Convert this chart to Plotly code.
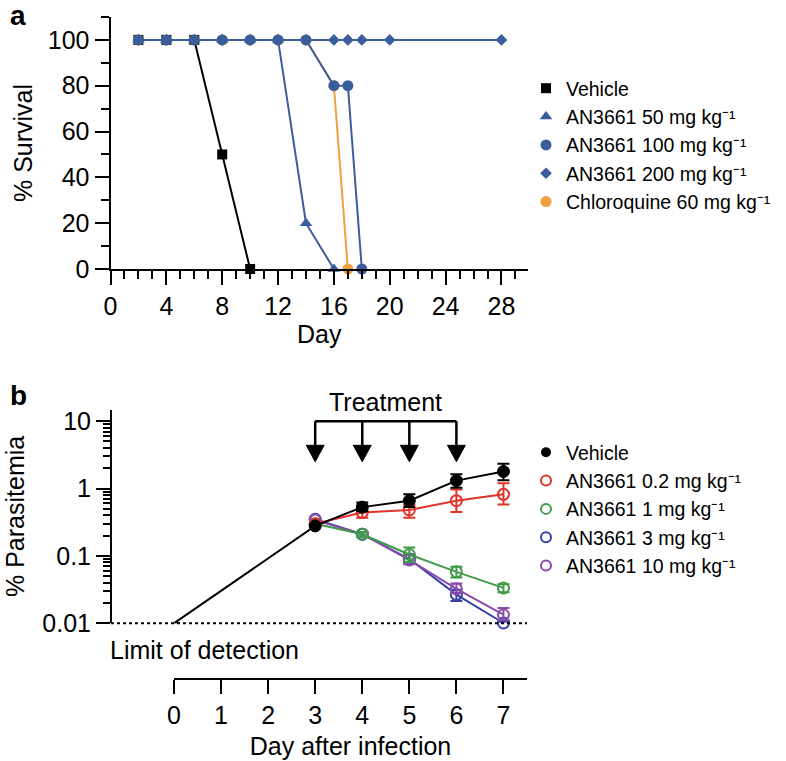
import plotly.graph_objects as go

# ---------------- Panel a data ----------------
veh_a_days = [2, 4, 6, 8, 10]
veh_a_surv = [100, 100, 100, 50, 0]
an50_days = [2, 4, 6, 8, 10, 12, 14, 16]
an50_surv = [100, 100, 100, 100, 100, 100, 20, 0]
an100_days = [2, 4, 6, 8, 10, 12, 14, 16, 17, 18]
an100_surv = [100, 100, 100, 100, 100, 100, 100, 80, 80, 0]
an200_days = [2, 4, 6, 8, 10, 12, 14, 16, 17, 18, 20, 28]
an200_surv = [100, 100, 100, 100, 100, 100, 100, 100, 100, 100, 100, 100]
chq_days = [2, 4, 6, 8, 10, 12, 14, 16, 17]
chq_surv = [100, 100, 100, 100, 100, 100, 100, 80, 0]

# ---------------- Panel b data ----------------
veh_b_days = [0, 3, 4, 5, 6, 7]
veh_b = [0.01, 0.279, 0.53, 0.66, 1.31, 1.79]
veh_b_hi = [0.01, 0.279, 0.62, 0.82, 1.63, 2.34]
veh_b_lo = [0.01, 0.279, 0.46, 0.53, 1.03, 1.33]

trt_days = [3, 4, 5, 6, 7]
r02 = [0.30, 0.44, 0.48, 0.66, 0.82]
r02_hi = [0.30, 0.51, 0.57, 0.97, 1.20]
r02_lo = [0.30, 0.37, 0.37, 0.45, 0.58]
r1 = [0.30, 0.21, 0.105, 0.058, 0.0335]
r1_hi = [0.30, 0.225, 0.133, 0.069, 0.038]
r1_lo = [0.30, 0.195, 0.081, 0.048, 0.029]
r3 = [0.35, 0.21, 0.09, 0.0266, 0.0101]
r3_hi = [0.35, 0.225, 0.105, 0.0315, 0.0106]
r3_lo = [0.35, 0.195, 0.077, 0.0215, 0.0096]
r10 = [0.34, 0.21, 0.087, 0.0325, 0.0134]
r10_hi = [0.34, 0.225, 0.102, 0.039, 0.0168]
r10_lo = [0.34, 0.195, 0.075, 0.0285, 0.0112]

treatment_days = [3, 4, 5, 6]

legend_a = ["Vehicle", "AN3661 50 mg kg\u207b\u00b9", "AN3661 100 mg kg\u207b\u00b9",
            "AN3661 200 mg kg\u207b\u00b9", "Chloroquine 60 mg kg\u207b\u00b9"]
legend_b = ["Vehicle", "AN3661 0.2 mg kg\u207b\u00b9", "AN3661 1 mg kg\u207b\u00b9",
            "AN3661 3 mg kg\u207b\u00b9", "AN3661 10 mg kg\u207b\u00b9"]

# ---------------- geometry helpers ----------------
W, H = 786, 761
def px(x):
    return x / W
def py(y):
    return 1 - y / H

FONT = "Liberation Sans, Arial, sans-serif"
BLUE = "#3A5D9C"
ORANGE = "#F0A040"
RED = "#E0342B"
GREEN = "#3F9B49"
DBLUE = "#3442A6"
PURPLE = "#8A4BAA"

fig = go.Figure()

# ---- Panel a traces ----
def surv(xs, ys, color, symbol, size, name, rank):
    fig.add_trace(go.Scatter(x=xs, y=ys, mode="lines+markers", xaxis="x", yaxis="y",
                             line=dict(color=color, width=2),
                             marker=dict(color=color, symbol=symbol, size=size, opacity=1),
                             cliponaxis=False, showlegend=False, hoverinfo="skip"))
    fig.add_trace(go.Scatter(x=[None], y=[None], mode="markers", xaxis="x", yaxis="y",
                             marker=dict(color=color, symbol=symbol, size=size),
                             name=name, legend="legend", legendrank=rank))

surv(veh_a_days, veh_a_surv, "black", "square", 10, legend_a[0], 1)
surv(an50_days, an50_surv, BLUE, "triangle-up", 11, legend_a[1], 2)
surv(chq_days, chq_surv, ORANGE, "circle", 11, legend_a[4], 5)
surv(an100_days, an100_surv, BLUE, "circle", 11, legend_a[2], 3)
surv(an200_days, an200_surv, BLUE, "diamond", 9, legend_a[3], 4)

# ---- Panel b traces ----
def para(xs, ys, hi, lo, color, name, rank, filled=False, marker_sizes=None):
    plus = [h - v for h, v in zip(hi, ys)]
    minus = [v - l for v, l in zip(ys, lo)]
    fig.add_trace(go.Scatter(
        x=xs, y=ys, mode="lines+markers", xaxis="x2", yaxis="y2",
        line=dict(color=color, width=2),
        marker=dict(symbol="circle" if filled else "circle-open",
                    size=marker_sizes if marker_sizes else 11, opacity=1,
                    color=color, line=dict(color=color, width=2 if not filled else 1)),
        error_y=dict(type="data", array=plus, arrayminus=minus, symmetric=False,
                     color=color, thickness=2, width=6),
        cliponaxis=False, showlegend=False, hoverinfo="skip"))
    fig.add_trace(go.Scatter(
        x=[None], y=[None], mode="markers", xaxis="x2", yaxis="y2",
        marker=dict(symbol="circle" if filled else "circle-open", size=10,
                    color=color, line=dict(color=color, width=2 if not filled else 0)),
        name=name, legend="legend2", legendrank=rank))

para(trt_days, r3, r3_hi, r3_lo, DBLUE, legend_b[3], 4)
para(trt_days, r10, r10_hi, r10_lo, PURPLE, legend_b[4], 5)
para(trt_days, r1, r1_hi, r1_lo, GREEN, legend_b[2], 3)
para(trt_days, r02, r02_hi, r02_lo, RED, legend_b[1], 2)
para(veh_b_days, veh_b, veh_b_hi, veh_b_lo, "#000000", legend_b[0], 1, filled=True,
     marker_sizes=[0] + [12] * (len(veh_b_days) - 1))

# ---- Treatment bracket (derived from treatment days) ----
bracket_top = 10
head_top = 4.38
head_tip = 2.5
hw = 0.19
bx, by = [], []
for d in treatment_days:
    bx += [d, d, None]
    by += [bracket_top, head_top, None]
bx += [treatment_days[0], treatment_days[-1]]
by += [bracket_top, bracket_top]
fig.add_trace(go.Scatter(x=bx, y=by, mode="lines", xaxis="x2", yaxis="y2",
                         line=dict(color="black", width=2.5), showlegend=False,
                         cliponaxis=False, hoverinfo="skip"))
tx, ty = [], []
for d in treatment_days:
    tx += [d - hw, d + hw, d, d - hw, None]
    ty += [head_top, head_top, head_tip, head_top, None]
fig.add_trace(go.Scatter(x=tx, y=ty, mode="lines", fill="toself", fillcolor="black",
                         xaxis="x2", yaxis="y2", line=dict(color="black", width=1),
                         showlegend=False, hoverinfo="skip"))

# ---------------- axes ----------------
tickfont = dict(family=FONT, size=25, color="black")
axis_common = dict(showgrid=False, zeroline=False, showline=True, linecolor="black",
                   linewidth=2, ticks="outside", tickwidth=2, tickcolor="black",
                   ticklen=14, tickfont=tickfont, automargin=False)

a_x = [px(110.5), px(528)]
a_y = [py(269), py(17)]
b_x = [px(174), px(527)]
b_y = [py(623.3), py(409.5)]

legend_common = dict(xanchor="left", yanchor="top", xref="paper", yref="paper",
                     font=dict(family=FONT, size=19.5, color="black"),
                     bgcolor="rgba(0,0,0,0)", itemwidth=30, tracegroupgap=0,
                     borderwidth=0)

fig.update_layout(
    width=W, height=H,
    margin=dict(l=0, r=0, t=0, b=0, autoexpand=False),
    paper_bgcolor="white", plot_bgcolor="white",
    font=dict(family=FONT, color="black"),
    xaxis=dict(**axis_common, domain=a_x, range=[0, 29.9], anchor="y",
               tickmode="linear", tick0=0, dtick=4,
               minor=dict(ticks="outside", dtick=1, tick0=0, ticklen=8, tickwidth=2,
                          tickcolor="black", showgrid=False),
               title=dict(text="Day", font=dict(family=FONT, size=25), standoff=6)),
    yaxis=dict(**axis_common, domain=a_y, range=[0, 110], anchor="x",
               tickmode="linear", tick0=0, dtick=20,
               minor=dict(ticks="outside", dtick=10, tick0=0, ticklen=8, tickwidth=2,
                          tickcolor="black", showgrid=False),
               title=dict(text="% Survival", font=dict(family=FONT, size=25), standoff=8)),
    xaxis2=dict(**axis_common, domain=b_x, range=[0, 7.5], anchor="free",
                position=py(679), tickmode="linear", tick0=0, dtick=1,
                title=dict(text="Day after infection", font=dict(family=FONT, size=25), standoff=8)),
    yaxis2=dict(**axis_common, type="log", domain=b_y, range=[-2, 1.173],
                anchor="free", position=px(111),
                tickvals=[0.01, 0.1, 1, 10], ticktext=["0.01", "0.1", "1", "10"],
                minor=dict(ticks="outside", ticklen=7, tickwidth=1.5, tickcolor="black",
                           tickvals=[k * 10 ** e for e in (-2, -1, 0) for k in range(2, 10)],
                           showgrid=False),
                title=dict(text="% Parasitemia", font=dict(family=FONT, size=25), standoff=10)),
    legend=dict(**legend_common, x=px(526), y=py(69)),
    legend2=dict(**legend_common, x=px(526), y=py(433)),
    shapes=[dict(type="line", xref="paper", yref="paper",
                 x0=px(111), x1=px(527), y0=b_y[0], y1=b_y[0],
                 line=dict(color="black", width=2, dash="dot"))],
    annotations=[
        dict(text="<b>a</b>", x=px(8), y=py(16), xref="paper", yref="paper",
             xanchor="left", yanchor="middle", showarrow=False,
             font=dict(family=FONT, size=28)),
        dict(text="<b>b</b>", x=px(8), y=py(395), xref="paper", yref="paper",
             xanchor="left", yanchor="middle", showarrow=False,
             font=dict(family=FONT, size=28)),
        dict(text="Treatment", x=b_x[0] + (b_x[1] - b_x[0]) * 4.5 / 7.5, y=py(402),
             xref="paper", yref="paper", xanchor="center", yanchor="middle",
             showarrow=False, font=dict(family=FONT, size=25)),
        dict(text="Limit of detection", x=px(108), y=py(650), xref="paper", yref="paper",
             xanchor="left", yanchor="middle", showarrow=False,
             font=dict(family=FONT, size=25)),
    ],
)

fig.write_html("out.html", config={"displayModeBar": False},
               post_script="document.body.style.margin='0';")
